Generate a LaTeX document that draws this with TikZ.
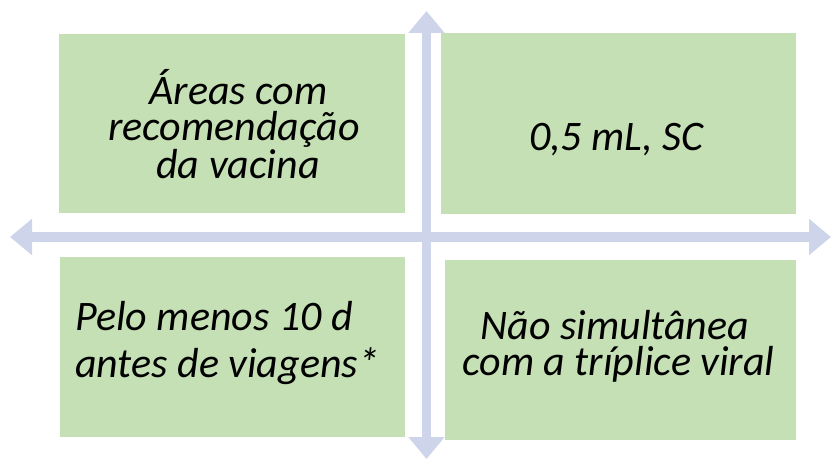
\documentclass[tikz,border=0pt]{standalone}
\usepackage{fontspec}
\setmainfont{Carlito}
\usetikzlibrary{arrows.meta}
\definecolor{boxgreen}{HTML}{C5E0B4}
\definecolor{arrowblue}{HTML}{CED4EA}
\tikzset{
  greenbox/.style={fill=boxgreen, draw=none},
  txt/.style={inner sep=0pt, text=black},
  tight/.style={font=\fontsize{42}{36}\selectfont\itshape},
  loose/.style={font=\fontsize{42}{47}\selectfont\itshape},
  blockarrow/.style={draw=arrowblue, line width=9.5pt,
    {Triangle[length=22pt,width=35pt]}-{Triangle[length=22pt,width=35pt]}}
}
\begin{document}
\begin{tikzpicture}[x=1pt,y=-1pt]
\useasboundingbox (0,0) rectangle (832,460);
% boxes
\fill[greenbox] (59,34) rectangle (405,213) coordinate (tlbox);
\fill[greenbox] (441,33) rectangle (796,214) coordinate (trbox);
\fill[greenbox] (60,257) rectangle (405,437) coordinate (blbox);
\fill[greenbox] (445,260) rectangle (796,440) coordinate (brbox);
% arrows
\coordinate (top) at (426.5,11);
\coordinate (bottom) at (426.5,459);
\coordinate (left) at (10,237);
\coordinate (right) at (831,237);
\draw[blockarrow] (top) -- (bottom);
\draw[blockarrow] (left) -- (right);
% texts (base anchor = baseline of the last line)
\node[txt, tight, align=center, anchor=base] (tl) at (234,178)
  {\hspace*{9pt}Áreas com\\recomendação\\\hspace*{8pt}da vacina};
\node[txt, tight, anchor=base] (tr) at (616.5,150) {0,5 mL, SC};
\node[txt, loose, align=left, anchor=base west] (bl) at (75,377)
  {Pelo menos 10 d\\antes de viagens*};
\node[txt, tight, align=center, anchor=base] (br) at (618.5,375)
  {Não simultânea\hspace*{7pt}\\com a tríplice viral};
\end{tikzpicture}
\end{document}
